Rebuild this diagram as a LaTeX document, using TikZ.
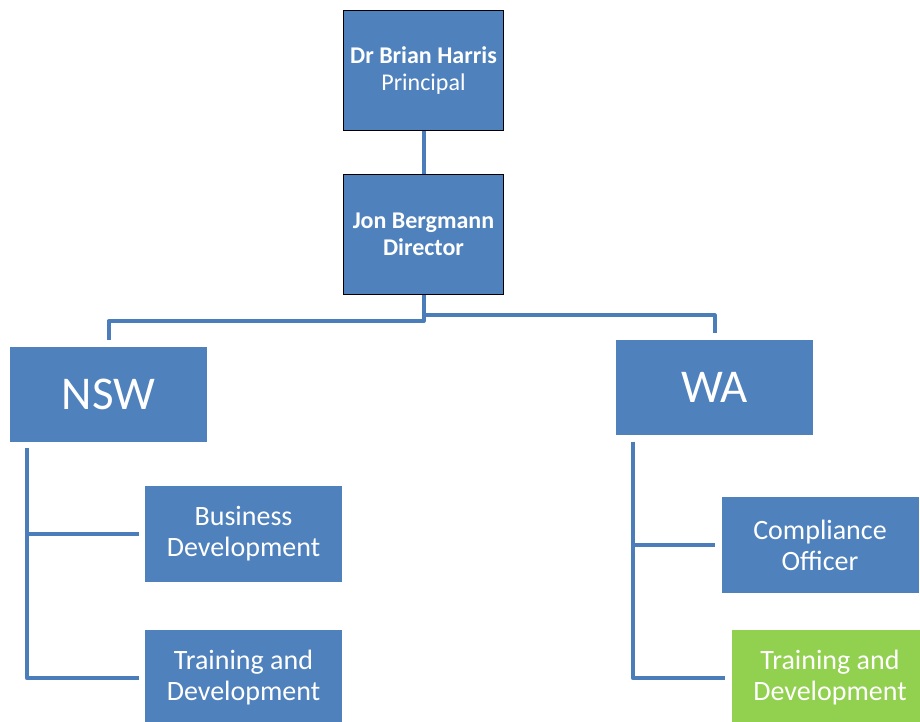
\documentclass[tikz,border=0pt]{standalone}
\usepackage{fontspec}
\setmainfont{Carlito}
\usetikzlibrary{calc}
\definecolor{boxblue}{HTML}{4F81BD}
\definecolor{linkblue}{HTML}{4A7DBA}
\definecolor{boxgreen}{HTML}{92D050}
\tikzset{
  topbox/.style={draw=black, line width=1.6pt, fill=boxblue, text=white, align=center,
    minimum width=160pt, minimum height=120pt, inner sep=0pt,
    font=\fontsize{24}{26.5}\selectfont},
  regionbox/.style={fill=boxblue, text=white, align=center,
    minimum width=197pt, minimum height=95pt, inner sep=0pt,
    font=\fontsize{47}{50}\selectfont},
  subbox/.style={fill=boxblue, text=white, align=center,
    minimum width=197pt, minimum height=96pt, inner sep=0pt,
    font=\fontsize{28}{31}\selectfont},
  link/.style={draw=linkblue, line width=4pt, line join=round, line cap=butt}
}
\begin{document}
\begin{tikzpicture}[x=1pt,y=-1pt]
\useasboundingbox (0,0) rectangle (920,722);
\clip (0,0) rectangle (920,722);
% boxes
\node[topbox] (principal) at (423.5,70.5) {\textbf{Dr Brian Harris}\\Principal};
\node[topbox] (director) at (423.5,234.5) {\textbf{Jon Bergmann}\\\textbf{Director}};
\node[regionbox] (nsw) at (108.5,394.5) {NSW};
\node[regionbox] (wa) at (714.5,387) {WA};
\node[subbox] (busdev) at (243.5,534) {Business\\Development};
\node[subbox] (nswtrain) at (243.5,678) {Training and\\Development};
\node[subbox] (comp) at (820,545) {Compliance\\Officer};
\node[subbox, fill=boxgreen] (watrain) at (830,678) {Training and\\Development};
% connectors
\draw[link] (principal.south) -- (director.north);
\coordinate (dbot) at (director.south);
\draw[link] (dbot) -- ++(0,26) -| ($(nsw.north)+(0,-7)$);
\draw[link] (dbot) |- ($(director.south)+(0,20)$) -| ($(wa.north)+(0,-6)$);
\coordinate (nswtop) at ($(nsw.south west)+(17,6)$);
\draw[link] (nswtop) |- ($(nswtrain.west)+(-6,0)$);
\draw[link] ($(nswtop|-busdev.west)$) -- ($(busdev.west)+(-6,0)$);
\coordinate (watop) at ($(wa.south west)+(17,7)$);
\draw[link] (watop) |- ($(watrain.west)+(-6,0)$);
\draw[link] ($(watop|-comp.west)$) -- ($(comp.west)+(-6,0)$);
\end{tikzpicture}
\end{document}
